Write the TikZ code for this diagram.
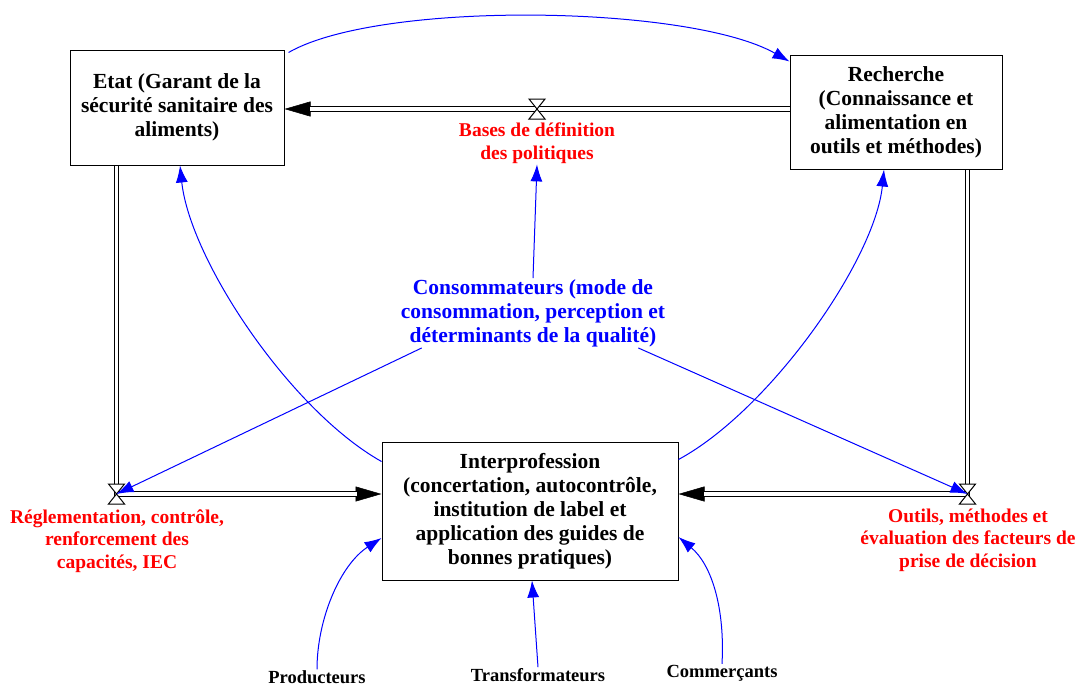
\documentclass[tikz,border=0pt]{standalone}
\usepackage{fontspec}
\setmainfont{Liberation Serif}
\usetikzlibrary{arrows.meta,calc}
\pgfdeclarelayer{bg}
\pgfsetlayers{bg,main}
\begin{document}
\begin{tikzpicture}[x=1pt,y=-1pt,
  box/.style={draw,line width=1pt,align=center,inner sep=0pt,font=\bfseries\fontsize{21.5}{24}\selectfont},
  cons/.style={align=center,inner sep=1pt,text=blue,font=\bfseries\fontsize{21.5}{24}\selectfont},
  lbl/.style={align=center,inner sep=1pt,text=red,font=\bfseries\fontsize{19.5}{22.5}\selectfont},
  src/.style={inner sep=1pt,font=\bfseries\fontsize{18.5}{21}\selectfont},
  link/.style={blue,line width=1pt,-{Latex[length=17pt,width=12pt]}},
  pipe/.style={line width=1.1pt,double=white,double distance=3.5pt,line join=miter},
  pipetip/.style={line width=0.5pt,-{Triangle[length=26pt,width=15pt]}},
  valve/.pic={\draw[line width=1pt,fill=white] (-8,-10) -- (8,-10) -- (-8,10) -- (8,10) -- cycle;}
]
\useasboundingbox (0,0) rectangle (1079,686);

% boxes
\node[box,minimum width=214pt,minimum height=115pt] (etat) at (177,107.5)
  {Etat (Garant de la\\sécurité sanitaire des\\aliments)};
\node[box,minimum width=212pt,minimum height=114pt] (rech) at (896,112)
  {Recherche\\(Connaissance et\\alimentation en\\outils et méthodes)};
\node[box,minimum width=296pt,minimum height=138pt] (inter) at (530,511)
  {Interprofession\\(concertation, autocontrôle,\\institution de label et\\application des guides de\\bonnes pratiques)};

\node[cons] (cons) at (533,313)
  {Consommateurs (mode de\\consommation, perception et\\déterminants de la qualité)};

% labels
\node[lbl] (bases) at (537,143) {Bases de définition\\des politiques};
\node[lbl] (regL) at (117,541) {Réglementation, contrôle,\\renforcement des\\capacités, IEC};
\node[lbl] (regR) at (968,540) {Outils, méthodes et\\évaluation des facteurs de\\prise de décision};

\node[src] (prod) at (317,677) {Producteurs};
\node[src] (trans) at (538,675) {Transformateurs};
\node[src] (comm) at (722,673) {Commerçants};

% valves
\coordinate (vT) at (537,109);
\coordinate (vL) at (116.5,494);
\coordinate (vR) at (967.5,494);

% pipes
\begin{pgfonlayer}{bg}
  \draw[pipetip] (rech.west |- vT) -- (etat.east |- vT);
  \draw[pipe,shorten >=25pt] (rech.west |- vT) -- (vT) -- (etat.east |- vT);
  \draw[pipetip] (vL) -- (inter.west |- vL);
  \draw[pipe,shorten >=25pt] (etat.south -| vL) -- (vL) -- (inter.west |- vL);
  \draw[pipetip] (vR) -- (inter.east |- vR);
  \draw[pipe,shorten >=25pt] (rech.south -| vR) -- (vR) -- (inter.east |- vR);
  \pic at (vT) {valve};
  \pic at (vL) {valve};
  \pic at (vR) {valve};
\end{pgfonlayer}

% influence links
\draw[link] ($(etat.north east)+(4,3)$) .. controls (380,0) and (690,5) .. ($(rech.north west)+(0,7)$);
\draw[link] ($(inter.north west)+(0,20)$) .. controls (290,410) and (190,260) .. ($(etat.south)+(3,0)$);
\draw[link] ($(inter.north east)+(0,18)$) .. controls (770,410) and (875,260) .. ($(rech.south)+(-12,0)$);
\draw[link] (cons.north) -- (bases.south);
\draw[link] ($(cons.south west)+(22,0)$) -- (vL);
\draw[link] ($(cons.south east)+(-28,0)$) -- (vR);
\draw[link] (prod.north) .. controls ($(prod.north)+(0,-50)$) and (340,565) .. ($(inter.west)+(0,27)$);
\draw[link] (trans.north) -- ($(inter.south)+(2,0)$);
\draw[link] (comm.north) .. controls ($(comm.north)+(3,-55)$) and (712,565) .. ($(inter.east)+(0,26)$);
\end{tikzpicture}
\end{document}
